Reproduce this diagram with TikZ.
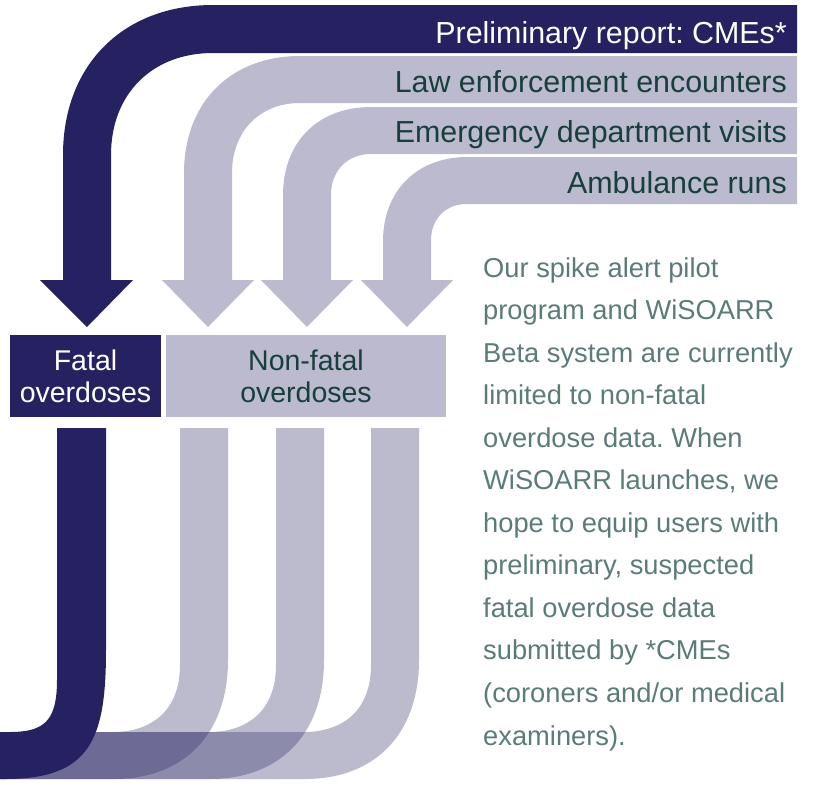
\documentclass[tikz,border=0pt]{standalone}
\usepackage{fontspec}
\setmainfont{Liberation Sans}
\frenchspacing
\definecolor{navy}{HTML}{262262}
\colorlet{lav}{navy!31!white}
\definecolor{darktext}{HTML}{173F3C}
\definecolor{paratext}{HTML}{5B7B79}
\begin{document}
\frenchspacing
\begin{tikzpicture}[x=1pt,y=-1pt,
  bandlabel/.style={anchor=base east, inner sep=0pt, font=\fontsize{30.4}{36}\selectfont},
  paraline/.style={anchor=base west, inner sep=0pt, text=paratext, font=\fontsize{27.3}{32}\selectfont},
  boxstyle/.style={rectangle, inner sep=0pt, align=center, minimum height=82pt, font=\fontsize{28.5}{32}\selectfont},
  solidband/.style={fill=lav},
  fadeband/.style={fill=navy, fill opacity=0.31}]
\useasboundingbox (0,0) rectangle (813,801);

% ---- top bands with arrows ----
\fill[navy] (63,280) -- (63,155) .. controls (63,65) and (123,5) .. (213,5) -- (797,5) -- (797,53) -- (213,53) .. controls (152,53) and (111,94) .. (111,155) -- (111,280) -- (133,280) -- (87,327) -- (40,280) -- cycle;
\fill[solidband] (184,280) -- (184,173) .. controls (184,103) and (230,56) .. (300,56) -- (797,56) -- (797,103) -- (300,103) .. controls (259,103) and (232,132) .. (232,173) -- (232,280) -- (254,280) -- (208,327) -- (162,280) -- cycle;
\fill[solidband] (283,280) -- (283,195) .. controls (283,142) and (318,107) .. (371,107) -- (797,107) -- (797,154) -- (371,154) .. controls (347,154) and (331,171) .. (331,195) -- (331,280) -- (353,280) -- (307,327) -- (261,280) -- cycle;
\fill[solidband] (383,280) -- (383,241) .. controls (383,191) and (417,157) .. (467,157) -- (797,157) -- (797,204) -- (467,204) .. controls (445,204) and (431,219) .. (431,241) -- (431,280) -- (453,280) -- (407,327) -- (361,280) -- cycle;

% ---- band labels ----
\node[bandlabel, text=white] (cme) at (787,43) {Preliminary report: CMEs*};
\node[bandlabel, text=darktext] (law) at (787,92) {Law enforcement encounters};
\node[bandlabel, text=darktext] (ed) at (787,142) {Emergency department visits};
\node[bandlabel, text=darktext] (amb) at (787,193) {Ambulance runs};

% ---- boxes ----
\node[boxstyle, fill=navy, text=white, minimum width=151pt] (fatal) at (85.5,376) {Fatal\\overdoses};
\node[boxstyle, fill=lav, text=darktext, minimum width=280pt] (nonfatal) at (306,376) {Non-fatal\\overdoses};

% ---- bottom bands ----
\foreach \xl in {371,276,180}{
  \fill[fadeband] (\xl,428) -- ({\xl+48},428) -- ({\xl+48},660) .. controls ({\xl+48},735) and ({\xl+3},779) .. ({\xl-66},779) -- (0,779) -- (0,732) -- ({\xl-67},732) .. controls ({\xl-30},732) and (\xl,712) .. (\xl,665) -- cycle;
}
\fill[navy] (57,428) -- (106,428) -- (106,650) .. controls (106,740) and (90,779) .. (5,779) -- (0,779) -- (0,732) -- (10,732) .. controls (45,732) and (57,720) .. (57,680) -- cycle;

% ---- paragraph ----
\foreach \t [count=\i] in {
  {Our spike alert pilot},
  {program and WiSOARR},
  {Beta system are currently},
  {limited to non-fatal},
  {overdose data. When},
  {WiSOARR launches, we},
  {hope to equip users with},
  {preliminary, suspected},
  {fatal overdose data},
  {submitted by *CMEs},
  {(coroners and/or medical},
  {examiners).}}{
  \node[paraline] (p\i) at (483,{277+42.55*(\i-1)}) {\t};
}
\end{tikzpicture}
\end{document}
